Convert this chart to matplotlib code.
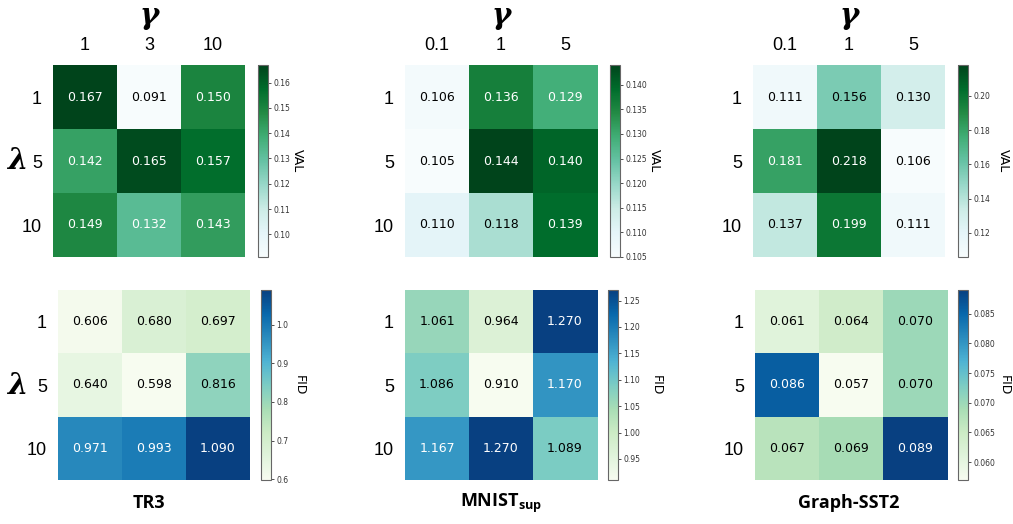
import matplotlib.pyplot as plt
import numpy as np

# values
datasets = ["TR3", "MNIST$_{\\mathregular{sup}}$", "Graph-SST2"]
gamma_labels = [["1", "3", "10"], ["0.1", "1", "5"], ["0.1", "1", "5"]]
lambda_labels = ["1", "5", "10"]

val_tr3 = [[0.167, 0.091, 0.150], [0.142, 0.165, 0.157], [0.149, 0.132, 0.143]]
val_mnist = [[0.106, 0.136, 0.129], [0.105, 0.144, 0.140], [0.110, 0.118, 0.139]]
val_sst2 = [[0.111, 0.156, 0.130], [0.181, 0.218, 0.106], [0.137, 0.199, 0.111]]

fid_tr3 = [[0.606, 0.680, 0.697], [0.640, 0.598, 0.816], [0.971, 0.993, 1.090]]
fid_mnist = [[1.061, 0.964, 1.270], [1.086, 0.910, 1.170], [1.167, 1.270, 1.089]]
fid_sst2 = [[0.061, 0.064, 0.070], [0.086, 0.057, 0.070], [0.067, 0.069, 0.089]]

val_all = [val_tr3, val_mnist, val_sst2]
fid_all = [fid_tr3, fid_mnist, fid_sst2]

W, H = 1013, 524
fig = plt.figure(figsize=(W / 100, H / 100), dpi=100)


def px_axes(x, y, w, h):
    return fig.add_axes([x / W, 1 - (y + h) / H, w / W, h / H])


def heat(ax, cax, data, cmap, xlabels, show_x):
    data = np.array(data)
    im = ax.imshow(data, cmap=cmap, aspect="auto")
    lo, hi = data.min(), data.max()
    for i in range(3):
        for j in range(3):
            v = data[i, j]
            c = "white" if (v - lo) / (hi - lo) > 0.5 else "black"
            ax.text(j, i, f"{v:.3f}", ha="center", va="center", color=c, fontsize=9)
    ax.set_yticks(range(3))
    ax.set_yticklabels(lambda_labels, fontsize=13, family="Liberation Sans")
    if show_x:
        ax.set_xticks(range(3))
        ax.set_xticklabels(xlabels, fontsize=13, family="Liberation Sans")
        ax.xaxis.tick_top()
    else:
        ax.set_xticks([])
    ax.tick_params(length=0, pad=8)
    for s in ax.spines.values():
        s.set_visible(False)
    cb = fig.colorbar(im, cax=cax)
    cb.outline.set_edgecolor("#666666")
    cb.ax.tick_params(labelsize=5.5, length=2, width=0.6, pad=2, colors="#333333")


col_x = [53, 405, 753]
col_xb = [58, 405, 755]
val_lab_x = [297, 654, 1003]
fid_lab_x = [299, 656, 1004]
for k in range(3):
    ax = px_axes(col_x[k], 65, 192, 192)
    cax = px_axes(col_x[k] + 205, 65, 10, 192)
    heat(ax, cax, val_all[k], "BuGn", gamma_labels[k], True)
    fig.text(val_lab_x[k] / W, 1 - 161 / H, "VAL", rotation=270,
             ha="center", va="center", fontsize=9)

    ax2 = px_axes(col_xb[k], 290, 192, 190)
    cax2 = px_axes(col_xb[k] + 203, 290, 10, 190)
    heat(ax2, cax2, fid_all[k], "GnBu", gamma_labels[k], False)
    fig.text(fid_lab_x[k] / W, 1 - 385 / H, "FID", rotation=270,
             ha="center", va="center", fontsize=9)

    cx = (col_x[k] + 96) / W
    fig.text(cx, 1 - 16 / H, "γ", ha="center", va="center", fontsize=21,
             fontweight="bold", style="italic", family="DejaVu Serif")
    fig.text(cx, 1 - 503 / H, datasets[k], ha="center", va="center",
             fontsize=13, fontweight="bold", family="Open Sans")

for yy in [161, 385]:
    fig.text(17 / W, 1 - yy / H, "λ", ha="center", va="center", fontsize=21,
             fontweight="bold", style="italic", family="DejaVu Serif")

fig.savefig("out.png", dpi=100)
